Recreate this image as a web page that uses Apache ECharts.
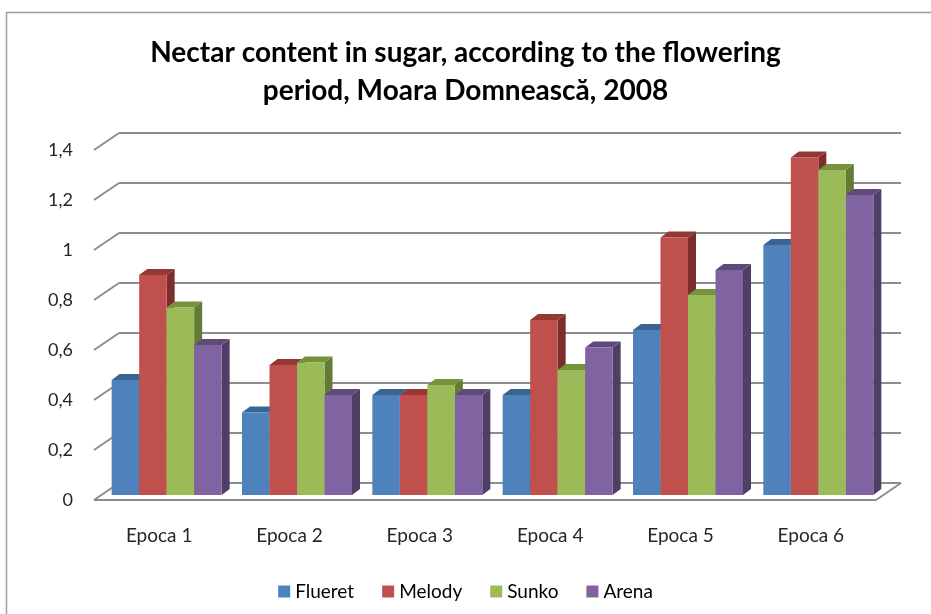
<!DOCTYPE html>
<html>
<head>
<meta charset="utf-8">
<script src="https://cdn.jsdelivr.net/npm/echarts@6/dist/echarts.min.js"></script>
<style>
  html, body { margin: 0; padding: 0; background: #fff; }
  #chart { width: 931px; height: 614px; }
</style>
</head>
<body>
<div id="chart"></div>
<script>
// categories and series values
const epochs = ['Epoca 1', 'Epoca 2', 'Epoca 3', 'Epoca 4', 'Epoca 5', 'Epoca 6'];
const flueret = [0.46, 0.33, 0.40, 0.40, 0.66, 1.00];
const melody = [0.88, 0.52, 0.40, 0.70, 1.03, 1.35];
const sunko = [0.75, 0.53, 0.44, 0.50, 0.80, 1.30];
const arena = [0.60, 0.40, 0.40, 0.59, 0.90, 1.20];
const yTicks = [0, 0.2, 0.4, 0.6, 0.8, 1, 1.2, 1.4];

const seriesList = [
  { name: 'Flueret', data: flueret, front: '#4f81bd', top: '#3a6494', side: '#36557c' },
  { name: 'Melody', data: melody, front: '#c0504d', top: '#953735', side: '#7c2e2c' },
  { name: 'Sunko', data: sunko, front: '#9bbb59', top: '#76923c', side: '#647b35' },
  { name: 'Arena', data: arena, front: '#8064a2', top: '#604a7b', side: '#4f3f66' }
];

// 3D look: depth of the floor and of each bar
const wallDx = 25, wallDy = 17;
const barShiftX = 7.5, barShiftY = 5;
const barDx = 8, barDy = 6;
const barFrac = 0.211;

const chart = echarts.init(document.getElementById('chart'));

// back wall, left wall stubs and floor
const wallSeries = {
  type: 'custom',
  silent: true,
  z: 1,
  data: yTicks.map(v => [0, v]),
  renderItem: function(params, api) {
    const cs = params.coordSys;
    const y = api.coord([0, api.value(1)])[1];
    const style = { stroke: '#8c8c8c', lineWidth: 2, fill: null };
    const children = [
      { type: 'line', shape: { x1: cs.x, y1: y, x2: cs.x + wallDx, y2: y - wallDy }, style: style },
      { type: 'line', shape: { x1: cs.x + wallDx, y1: y - wallDy, x2: cs.x + cs.width + wallDx, y2: y - wallDy }, style: style }
    ];
    if (api.value(1) === 0) {
      children.push({ type: 'line', shape: { x1: cs.x, y1: y, x2: cs.x + cs.width, y2: y }, style: style });
      children.push({ type: 'line', shape: { x1: cs.x + cs.width, y1: y, x2: cs.x + cs.width + wallDx, y2: y - wallDy }, style: style });
    }
    return { type: 'group', children: children };
  }
};

function makeBarSeries(s, idx) {
  return {
    name: s.name,
    type: 'custom',
    z: 2 + idx,
    itemStyle: { color: s.front },
    data: s.data.map((v, i) => [i, v]),
    renderItem: function(params, api) {
      const i = api.value(0);
      const base = api.coord([i, 0]);
      const top = api.coord([i, api.value(1)]);
      const w = api.size([1, 0])[0] * barFrac;
      const x0 = base[0] - 2 * w + idx * w + barShiftX;
      const y0 = base[1] - barShiftY;
      const y1 = top[1] - barShiftY;
      return {
        type: 'group',
        children: [
          { type: 'polygon', shape: { points: [[x0 + w, y1], [x0 + w + barDx, y1 - barDy], [x0 + w + barDx, y0 - barDy], [x0 + w, y0]] }, style: { fill: s.side } },
          { type: 'polygon', shape: { points: [[x0, y1], [x0 + w, y1], [x0 + w + barDx, y1 - barDy], [x0 + barDx, y1 - barDy]] }, style: { fill: s.top } },
          { type: 'rect', shape: { x: x0, y: y1, width: w, height: y0 - y1 }, style: { fill: s.front } }
        ]
      };
    }
  };
}

const option = {
  backgroundColor: '#fff',
  animation: false,
  graphic: [{
    type: 'rect',
    shape: { x: 6.5, y: 12.5, width: 940, height: 620 },
    style: { fill: null, stroke: '#a0a0a0', lineWidth: 1.5 }
  }],
  title: {
    text: 'Nectar content in sugar, according to the flowering\nperiod, Moara Domnească, 2008',
    left: 'center',
    top: 29,
    textStyle: { fontFamily: 'Lato', fontWeight: 'bold', fontSize: 28, lineHeight: 38, color: '#000' }
  },
  legend: {
    bottom: 8,
    left: 'center',
    icon: 'rect',
    itemWidth: 12,
    itemHeight: 12,
    itemGap: 28,
    textStyle: { fontFamily: 'Lato', fontSize: 19, color: '#000' },
    data: seriesList.map(s => s.name)
  },
  grid: { left: 94, right: 55, top: 150, bottom: 114, containLabel: false },
  xAxis: {
    type: 'category',
    data: epochs,
    axisLine: { show: false },
    axisTick: { show: false },
    axisLabel: { margin: 26, fontFamily: 'Lato', fontSize: 19, color: '#262626' }
  },
  yAxis: {
    type: 'value',
    min: 0,
    max: 1.4,
    interval: 0.2,
    axisLine: { show: false },
    axisTick: { show: false },
    splitLine: { show: false },
    axisLabel: {
      margin: 21,
      fontFamily: 'Lato',
      fontSize: 18,
      color: '#262626',
      formatter: v => String(Math.round(v * 10) / 10).replace('.', ',')
    }
  },
  series: [wallSeries].concat(seriesList.map(makeBarSeries))
};

chart.setOption(option);
</script>
</body>
</html>
